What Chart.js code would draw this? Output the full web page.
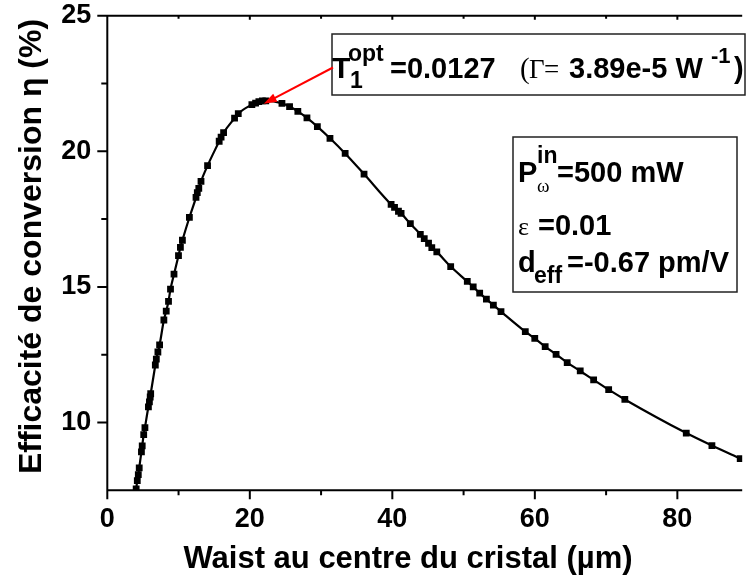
<!DOCTYPE html>
<html><head><meta charset="utf-8">
<script src="https://cdn.jsdelivr.net/npm/chart.js@4"></script>
<style>html,body{margin:0;padding:0;background:#fff}#wrap{width:747px;height:576px;position:relative}</style>
</head><body><div id="wrap"><canvas id="c"></canvas></div>
<script>
const waist = [4.05,4.21,4.35,4.48,4.79,4.90,5.11,5.28,5.77,5.91,6.02,6.09,6.74,6.88,7.10,7.34,7.94,8.27,8.59,8.87,9.36,9.99,10.26,10.54,11.52,12.45,12.63,12.84,13.15,14.07,15.70,15.97,16.32,17.86,18.38,20.29,20.81,21.27,21.76,22.24,24.51,25.58,26.74,28.02,29.48,31.25,33.38,36.03,39.83,40.31,40.86,41.23,42.53,43.93,44.48,45.08,45.54,46.24,48.19,50.52,51.35,52.26,53.20,54.18,55.25,58.66,59.99,61.45,62.98,64.54,66.37,68.25,70.36,72.63,81.25,84.85,88.82];
const efficiency = [7.55,7.86,8.08,8.33,8.92,9.14,9.55,9.81,10.58,10.76,10.94,11.06,12.12,12.34,12.60,12.86,13.78,14.11,14.47,14.92,15.47,16.15,16.46,16.72,17.56,18.30,18.48,18.63,18.89,19.47,20.37,20.52,20.69,21.22,21.39,21.72,21.78,21.83,21.86,21.86,21.77,21.65,21.47,21.23,20.91,20.48,19.92,19.16,18.04,17.93,17.79,17.71,17.33,16.94,16.78,16.61,16.45,16.29,15.75,15.20,15.00,14.77,14.55,14.33,14.09,13.35,13.10,12.80,12.51,12.21,11.90,11.57,11.21,10.85,9.61,9.15,8.67];
const xTicks = [0,20,40,60,80];
const xMinorTicks = [10,30,50,70];
const yTicks = [10,15,20,25];
const yMinorTicks = [12.5,17.5,22.5];
const xTitle = 'Waist au centre du cristal (µm)';
const yTitle = 'Efficacité de conversion η (%)';
const peak = {x: 21.96, y: 21.75};

const SANS = '"Liberation Sans", Arial, sans-serif';
const SERIF = '"Liberation Serif", "Times New Roman", serif';
const B = s => 'bold ' + s + 'px ' + SANS;

const axesPlugin = {
  id: 'axesPlugin',
  afterDatasetsDraw(chart) {
    const {ctx, chartArea: a, scales: {x, y}} = chart;
    ctx.save();
    ctx.strokeStyle = '#000';
    ctx.lineWidth = 2;
    ctx.beginPath();
    ctx.moveTo(a.left, a.top); ctx.lineTo(a.left, a.bottom);
    ctx.moveTo(a.left - 1, a.bottom); ctx.lineTo(a.right, a.bottom);
    ctx.moveTo(a.left - 1, a.top); ctx.lineTo(a.right, a.top);
    yTicks.forEach(v => { const p = y.getPixelForValue(v); ctx.moveTo(a.left - 10, p); ctx.lineTo(a.left, p); });
    yMinorTicks.forEach(v => { const p = y.getPixelForValue(v); ctx.moveTo(a.left - 6, p); ctx.lineTo(a.left, p); });
    xTicks.forEach(v => { const p = x.getPixelForValue(v); ctx.moveTo(p, a.bottom); ctx.lineTo(p, a.bottom + 9);
      ctx.moveTo(p, a.top); ctx.lineTo(p, a.top + 4); });
    xMinorTicks.forEach(v => { const p = x.getPixelForValue(v); ctx.moveTo(p, a.bottom); ctx.lineTo(p, a.bottom + 5);
      ctx.moveTo(p, a.top); ctx.lineTo(p, a.top + 3); });
    ctx.stroke();
    ctx.restore();
  }
};

function t(ctx, s, x, y, font, align) {
  ctx.font = font; ctx.textAlign = align || 'left'; ctx.fillText(s, x, y);
}

const textPlugin = {
  id: 'textPlugin',
  afterDraw(chart) {
    const {ctx, scales: {x, y}} = chart;
    ctx.save();
    ctx.fillStyle = '#000';
    ctx.textBaseline = 'alphabetic';
    // axis titles
    t(ctx, xTitle, 408, 568, B(31), 'center');
    ctx.save();
    ctx.translate(41, 246.5);
    ctx.rotate(-Math.PI / 2);
    t(ctx, yTitle, 0, 0, B(32), 'center');
    ctx.restore();

    // boxes
    ctx.fillStyle = '#fff';
    ctx.strokeStyle = '#222';
    ctx.lineWidth = 1.5;
    ctx.fillRect(332, 34, 413, 61); ctx.strokeRect(332, 34, 413, 61);
    ctx.fillRect(513, 137, 224, 155); ctx.strokeRect(513, 137, 224, 155);
    ctx.fillStyle = '#000';

    // box 1
    t(ctx, 'T', 332, 78, B(30));
    t(ctx, 'opt', 348, 61, B(23));
    t(ctx, '1', 350, 88, B(23));
    t(ctx, '=0.0127', 390, 78, B(29));
    t(ctx, '(', 520, 78, 'normal 29px ' + SERIF);
    t(ctx, 'Γ', 529, 78, 'normal 27px ' + SERIF);
    t(ctx, '=', 544, 78, 'normal 27px ' + SERIF);
    t(ctx, '3.89e-5 W', 569, 78, B(29));
    t(ctx, '-1', 711, 63, B(22));
    t(ctx, ')', 734, 78, B(29));

    // box 2
    t(ctx, 'P', 518, 182, B(29));
    t(ctx, 'in', 537, 163, B(23));
    t(ctx, 'ω', 537, 192, 'normal 19px ' + SERIF);
    t(ctx, '=500 mW', 557, 182, B(29));
    t(ctx, 'ε', 518, 235, 'normal 26px ' + SERIF);
    t(ctx, '=0.01', 538, 235, B(29));
    t(ctx, 'd', 518, 272, B(29));
    t(ctx, 'eff', 534, 283, B(23));
    t(ctx, '=-0.67 pm/V', 567, 272, B(29));

    // arrow
    const tx = x.getPixelForValue(peak.x), ty = y.getPixelForValue(peak.y);
    const sx = 333, sy = 67.5;
    const ang = Math.atan2(ty - sy, tx - sx);
    ctx.strokeStyle = '#ff0000'; ctx.fillStyle = '#ff0000'; ctx.lineWidth = 2;
    ctx.beginPath(); ctx.moveTo(sx, sy);
    ctx.lineTo(tx - 10 * Math.cos(ang), ty - 10 * Math.sin(ang)); ctx.stroke();
    ctx.beginPath();
    ctx.moveTo(tx, ty);
    ctx.lineTo(tx - 13 * Math.cos(ang) + 4.5 * Math.sin(ang), ty - 13 * Math.sin(ang) - 4.5 * Math.cos(ang));
    ctx.lineTo(tx - 13 * Math.cos(ang) - 4.5 * Math.sin(ang), ty - 13 * Math.sin(ang) + 4.5 * Math.cos(ang));
    ctx.closePath(); ctx.fill();
    ctx.restore();
  }
};

const points = waist.map((w, i) => ({x: w, y: efficiency[i]}));

new Chart(document.getElementById('c'), {
  type: 'scatter',
  data: { datasets: [{
    data: points,
    showLine: true,
    borderColor: '#000',
    borderWidth: 2.2,
    cubicInterpolationMode: 'monotone',
    pointStyle: 'rect',
    pointRadius: 4.8,
    pointBackgroundColor: '#000',
    pointBorderColor: '#000',
    pointBorderWidth: 0,
    pointHoverRadius: 4.8
  }]},
  options: {
    responsive: true,
    maintainAspectRatio: false,
    animation: false,
    events: [],
    layout: { padding: { top: 15.7, left: 0, right: 0, bottom: 0 } },
    plugins: { legend: { display: false }, tooltip: { enabled: false } },
    scales: {
      x: {
        type: 'linear', position: 'bottom', min: 0, max: 89.1,
        afterBuildTicks: s => { s.ticks = xTicks.map(v => ({value: v})); },
        afterFit: s => { s.height = 85.7; s.paddingLeft = 0; s.paddingRight = 0; },
        grid: { display: false, drawTicks: false },
        border: { display: false },
        ticks: { color: '#000', font: { family: SANS, size: 27, weight: 'bold' }, padding: 13.5, maxRotation: 0, autoSkip: false }
      },
      y: {
        type: 'linear', position: 'left', min: 7.5, max: 25,
        afterBuildTicks: s => { s.ticks = yTicks.map(v => ({value: v})); },
        afterFit: s => { s.width = 107.3; s.paddingTop = 0; s.paddingBottom = 0; },
        grid: { display: false, drawTicks: false },
        border: { display: false },
        ticks: { color: '#000', font: { family: SANS, size: 27, weight: 'bold' }, padding: 16, autoSkip: false }
      }
    }
  },
  plugins: [axesPlugin, textPlugin]
});
</script>
</body></html>
